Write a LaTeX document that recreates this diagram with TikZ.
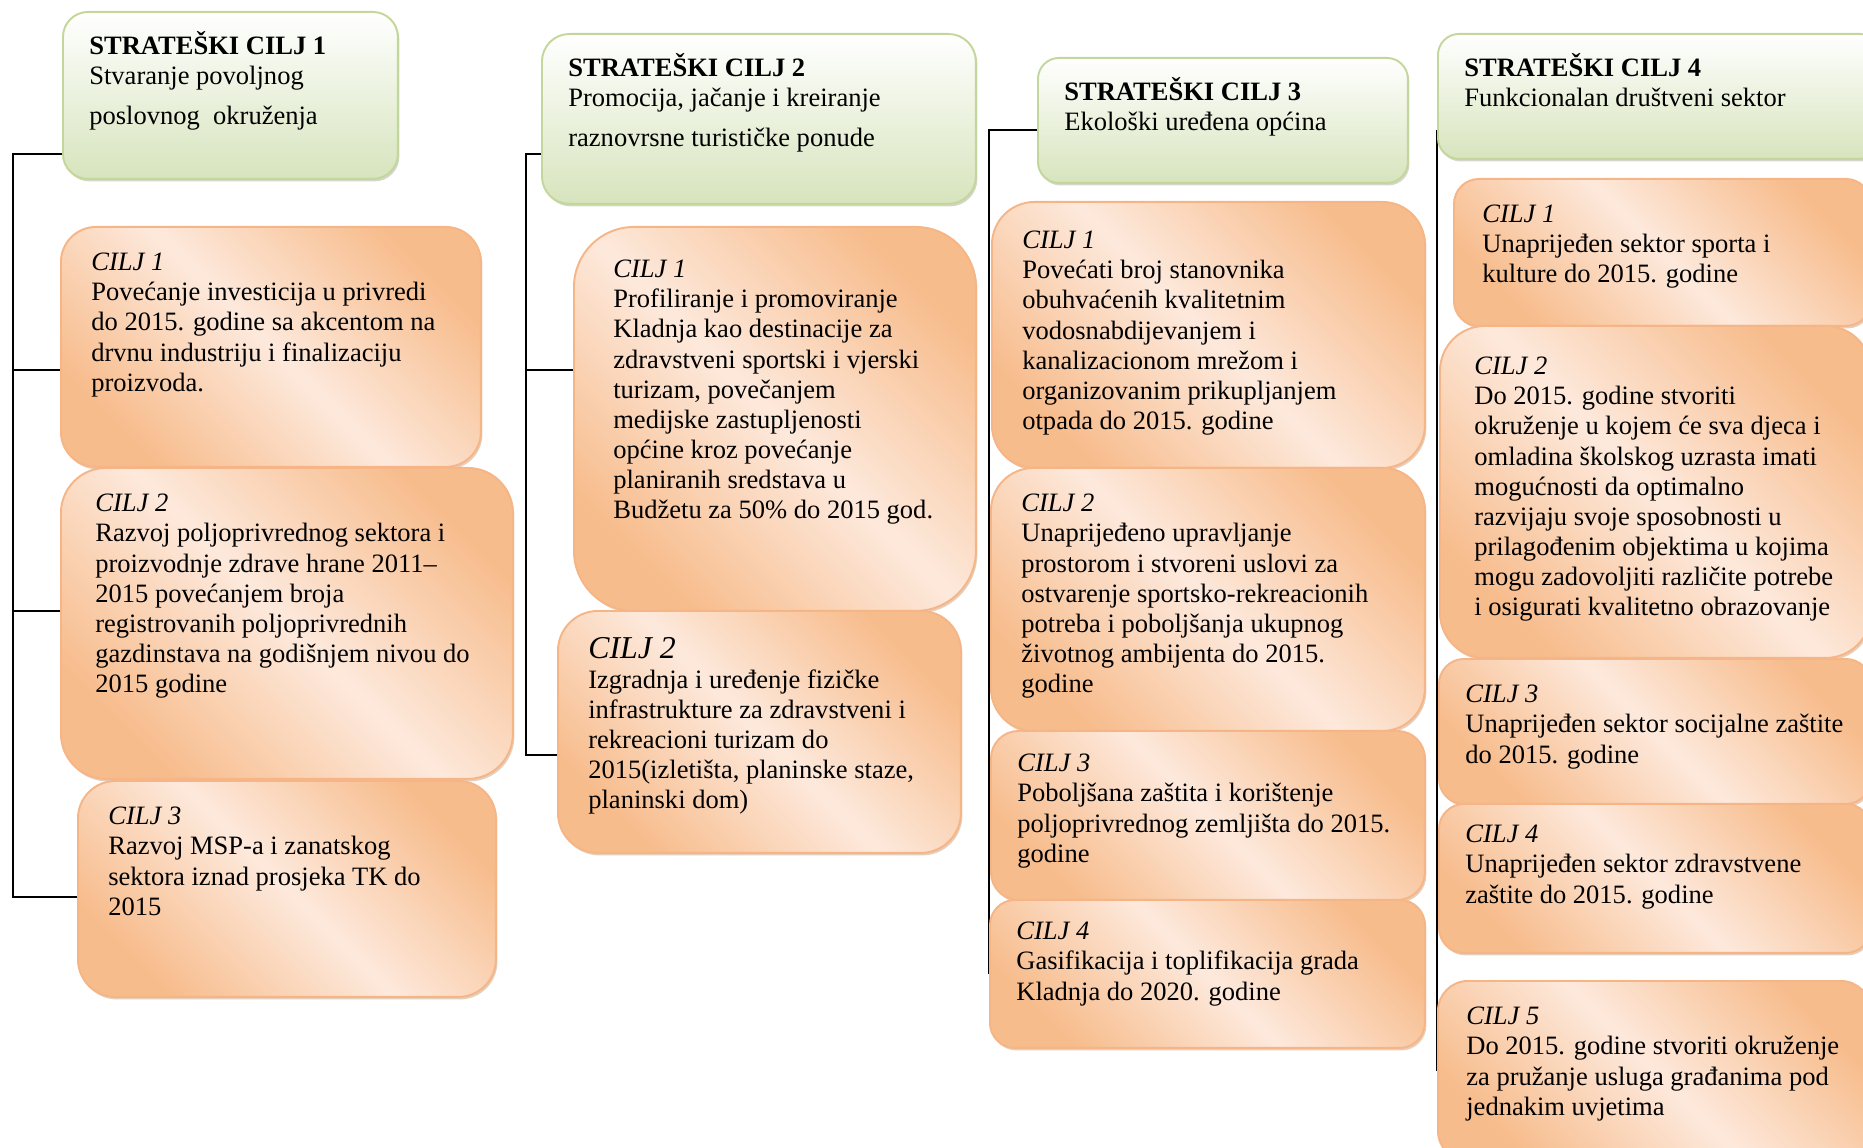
\documentclass[tikz,border=0pt]{standalone}
\usepackage{fontspec}
\setmainfont{Liberation Serif}
\usetikzlibrary{shadows,backgrounds}
\definecolor{greenline}{HTML}{C3D69B}
\definecolor{greenfill}{HTML}{D7E4BD}
\definecolor{orangeline}{HTML}{F6B586}
\definecolor{orangedark}{HTML}{F7BC8C}
\definecolor{orangelight}{HTML}{FDE9DC}
\definecolor{shadowgreen}{HTML}{A9AE93}
\definecolor{shadowtan}{HTML}{C9A07C}

\begin{document}
\begin{tikzpicture}[x=0.02cm, y=-0.02cm,
    goalhead/.style={rectangle, anchor=north west, draw=greenline, line width=1.1pt,
                     top color=white, bottom color=greenfill,
                     drop shadow={shadow xshift=0.03cm, shadow yshift=-0.05cm, fill=shadowgreen}},
    goalbox/.style={rectangle, anchor=north west, draw=orangeline, line width=1.1pt,
                    top color=orangedark, bottom color=orangedark, middle color=orangelight,
                    shading angle=-45,
                    drop shadow={shadow xshift=0.03cm, shadow yshift=-0.05cm, fill=shadowtan}},
    headtxt/.style={anchor=north west, align=left, inner sep=0pt,
                    font=\fontsize{15.1}{17.1}\selectfont, xshift=0.54cm, yshift=-0.4cm},
    goaltxt/.style={anchor=north west, align=left, inner sep=0pt,
                    font=\fontsize{15.1}{17.1}\selectfont, xshift=0.62cm, yshift=-0.54cm},
    tree/.style={draw=black, line width=0.8pt}
  ]
  \clip (0,0) rectangle (1863,1148);

  % strateski cilj 1
  \node[goalhead, minimum width=6.7cm, minimum height=3.34cm, rounded corners=0.5cm,
        label={[headtxt]north west:{\textbf{STRATEŠKI CILJ 1}\\ Stvaranje povoljnog\\[5.7pt] poslovnog\ \ okruženja}}]
        (sc1) at (62,11) {};
  \node[goalbox, minimum width=8.4cm, minimum height=4.8cm, rounded corners=0.7cm,
        label={[goaltxt]north west:{\textit{CILJ 1}\\ Povećanje investicija u privredi\\ do 2015. godine sa akcentom na\\ drvnu industriju i finalizaciju\\ proizvoda.}}]
        (c11) at (60,226) {};
  \node[goalbox, minimum width=9.04cm, minimum height=6.22cm, rounded corners=0.9cm,
        label={[goaltxt, xshift=0.08cm]north west:{\textit{CILJ 2}\\ Razvoj poljoprivrednog sektora i\\ proizvodnje zdrave hrane 2011–\\ 2015 povećanjem broja\\ registrovanih poljoprivrednih\\ gazdinstava na godišnjem nivou do\\ 2015 godine}}]
        (c12) at (60,467) {};
  \node[goalbox, minimum width=8.36cm, minimum height=4.32cm, rounded corners=0.75cm,
        label={[goaltxt]north west:{\textit{CILJ 3}\\ Razvoj MSP-a i zanatskog\\ sektora iznad prosjeka TK do\\ 2015}}]
        (c13) at (77,780) {};

  % strateski cilj 2
  \node[goalhead, minimum width=8.68cm, minimum height=3.4cm, rounded corners=0.55cm,
        label={[headtxt]north west:{\textbf{STRATEŠKI CILJ 2}\\ Promocija, jačanje i kreiranje\\[5.7pt] raznovrsne turističke ponude}}]
        (sc2) at (541,33) {};
  \node[goalbox, minimum width=8.04cm, minimum height=7.68cm, rounded corners=1.2cm,
        label={[goaltxt, xshift=0.18cm, yshift=-0.14cm]north west:{\textit{CILJ 1}\\ Profiliranje i promoviranje\\ Kladnja kao destinacije za\\ zdravstveni sportski i vjerski\\ turizam, povečanjem\\ medijske zastupljenosti\\ općine kroz povećanje\\ planiranih sredstava u\\ Budžetu za 50\% do 2015 god.}}]
        (c21) at (573,226) {};
  \node[goalbox, minimum width=8.06cm, minimum height=4.84cm, rounded corners=0.8cm,
        label={[goaltxt]north west:{{\fontsize{18.1}{21}\selectfont\textit{CILJ 2}}\\ Izgradnja i uređenje fizičke\\ infrastrukture za zdravstveni i\\ rekreacioni turizam do\\ 2015(izletišta, planinske staze,\\ planinski dom)}}]
        (c22) at (557,610) {};

  % strateski cilj 3
  \node[goalhead, minimum width=7.4cm, minimum height=2.5cm, rounded corners=0.42cm,
        label={[headtxt]north west:{\textbf{STRATEŠKI CILJ 3}\\ Ekološki uređena općina}}]
        (sc3) at (1037,57) {};
  \node[goalbox, minimum width=8.66cm, minimum height=5.32cm, rounded corners=0.85cm,
        label={[goaltxt, yshift=-0.06cm]north west:{\textit{CILJ 1}\\ Povećati broj stanovnika\\ obuhvaćenih kvalitetnim\\ vodosnabdijevanjem i\\ kanalizacionom mrežom i\\ organizovanim prikupljanjem\\ otpada do 2015. godine}}]
        (c31) at (991,201) {};
  \node[goalbox, minimum width=8.68cm, minimum height=5.26cm, rounded corners=0.85cm,
        label={[goaltxt]north west:{\textit{CILJ 2}\\ Unaprijeđeno upravljanje\\ prostorom i stvoreni uslovi za\\ ostvarenje sportsko-rekreacionih\\ potreba i poboljšanja ukupnog\\ životnog ambijenta do 2015.\\ godine}}]
        (c32) at (990,467) {};
  \node[goalbox, minimum width=8.68cm, minimum height=3.38cm, rounded corners=0.55cm,
        label={[goaltxt, xshift=-0.08cm, yshift=0.06cm]north west:{\textit{CILJ 3}\\ Poboljšana zaštita i korištenje\\ poljoprivrednog zemljišta do 2015.\\ godine}}]
        (c33) at (990,730) {};
  \node[goalbox, minimum width=8.7cm, minimum height=2.96cm, rounded corners=0.5cm,
        label={[goaltxt, xshift=-0.08cm, yshift=0.08cm]north west:{\textit{CILJ 4}\\ Gasifikacija i toplifikacija grada\\ Kladnja do 2020. godine}}]
        (c34) at (989,899) {};

  % strateski cilj 4
  \node[goalhead, minimum width=8.86cm, minimum height=2.5cm, rounded corners=0.42cm,
        label={[headtxt]north west:{\textbf{STRATEŠKI CILJ 4}\\ Funkcionalan društveni sektor}}]
        (sc4) at (1437,33) {};
  \node[goalbox, minimum width=8.34cm, minimum height=2.94cm, rounded corners=0.5cm,
        label={[goaltxt, xshift=-0.04cm]north west:{\textit{CILJ 1}\\ Unaprijeđen sektor sporta i\\ kulture do 2015. godine}}]
        (c41) at (1453,178) {};
  \node[goalbox, minimum width=8.62cm, minimum height=6.64cm, rounded corners=0.9cm,
        label={[goaltxt, xshift=0.08cm, yshift=-0.1cm]north west:{\textit{CILJ 2}\\ Do 2015. godine stvoriti\\ okruženje u kojem će sva djeca i\\ omladina školskog uzrasta imati\\ mogućnosti da optimalno\\ razvijaju svoje sposobnosti u\\ prilagođenim objektima u kojima\\ mogu zadovoljiti različite potrebe\\ i osigurati kvalitetno obrazovanje}}]
        (c42) at (1439,325) {};
  \node[goalbox, minimum width=8.64cm, minimum height=2.9cm, rounded corners=0.5cm,
        label={[goaltxt, xshift=-0.08cm]north west:{\textit{CILJ 3}\\ Unaprijeđen sektor socijalne zaštite\\ do 2015. godine}}]
        (c43) at (1438,658) {};
  \node[goalbox, minimum width=8.64cm, minimum height=2.98cm, rounded corners=0.5cm,
        label={[goaltxt, xshift=-0.08cm, yshift=0.1cm]north west:{\textit{CILJ 4}\\ Unaprijeđen sektor zdravstvene\\ zaštite do 2015. godine}}]
        (c44) at (1438,803) {};
  \node[goalbox, minimum width=8.66cm, minimum height=3.6cm, rounded corners=0.6cm,
        label={[goaltxt, xshift=-0.04cm]north west:{\textit{CILJ 5}\\ Do 2015. godine stvoriti okruženje\\ za pružanje usluga građanima pod\\ jednakim uvjetima}}]
        (c45) at (1437,980) {};

  % connectors
  \begin{scope}[on background layer]
    \coordinate (t1) at (13,154);
    \coordinate (t2) at (526,154);
    \coordinate (t3) at (989,130);
    \coordinate (t4) at (1437,130);
    \draw[tree] (sc1.west |- t1) -- (t1) |- (c13.west |- 0,897);
    \draw[tree] (t1 |- 0,370) -- (c11.west |- 0,370);
    \draw[tree] (t1 |- 0,611) -- (c12.west |- 0,611);
    \draw[tree] (sc2.west |- t2) -- (t2) |- (c22.west |- 0,755);
    \draw[tree] (t2 |- 0,370) -- (c21.west |- 0,370);
    \draw[tree] (sc3.west |- t3) -- (t3) |- (c34.west);
    \draw[tree] (t4) |- (c45.west);
  \end{scope}
\end{tikzpicture}
\end{document}
